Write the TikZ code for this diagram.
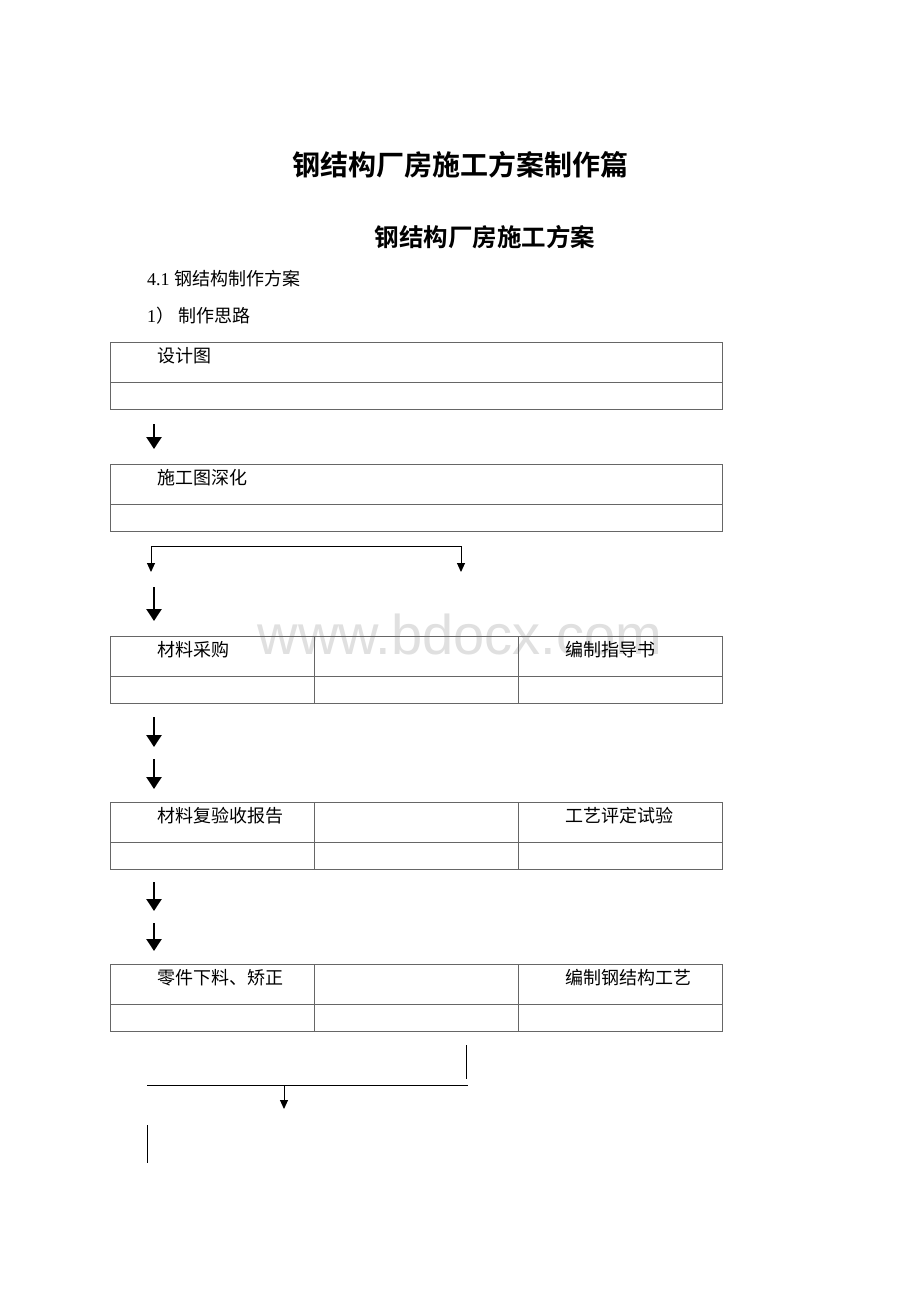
\documentclass[tikz,border=0pt]{standalone}
\usepackage{fontspec}
\setmainfont{Liberation Serif}
\newfontfamily\cjk{Noto Sans CJK SC}
\newfontfamily\cjkbold{Noto Sans CJK SC Bold}
\usepackage{tikz}
\usetikzlibrary{positioning,arrows.meta}

\tikzset{
  topcell/.style={draw=black!60, line width=0.8pt, minimum width=#1, minimum height=40pt, inner sep=0pt, outer sep=0pt, anchor=north west},
  botcell/.style={draw=black!60, line width=0.8pt, minimum width=#1, minimum height=27pt, inner sep=0pt, outer sep=0pt},
  lbl/.style={anchor=west, inner sep=0pt, font=\cjk\fontsize{18}{22}\selectfont},
  bigarr/.style={line width=2.4pt, -{Triangle[width=15pt,length=12pt]}},
  thinarr/.style={line width=1pt, -{Triangle[width=8pt,length=9pt]}},
  rule/.style={line width=1pt}
}

\begin{document}
\begin{tikzpicture}[x=1pt,y=-1pt]
\useasboundingbox[fill=white] (0,0) rectangle (920,1302);

% watermark
\node[text=black!12, font=\fontspec{Liberation Sans}\fontsize{56}{60}\selectfont] (wm) at (460,634) {www.bdocx.com};

% headings
\node[font=\cjkbold\fontsize{28}{34}\selectfont] (title) at (460,165) {钢结构厂房施工方案制作篇};
\node[font=\cjkbold\fontsize{24.5}{30}\selectfont] (subtitle) at (485,237) {钢结构厂房施工方案};
\node[anchor=west, inner sep=0pt, font=\fontsize{18}{22}\selectfont] (sec) at (147,279) {4.1 {\cjk 钢结构制作方案}};
\node[anchor=west, inner sep=0pt, font=\fontsize{18}{22}\selectfont] (idea) at (147,316) {1{\cjk ）\ 制作思路}};

% box 1: design drawing
\node[topcell=612pt] (t1) at (110,342) {};
\node[botcell=612pt, below=0pt of t1] (b1) {};
\node[lbl] (l1) at ([xshift=47pt,yshift=6pt]t1.west) {设计图};

\coordinate (a1s) at (154,424);
\coordinate (a1e) at (154,449);
\draw[bigarr] (a1s) -- (a1e);

% box 2: shop drawing
\node[topcell=612pt] (t2) at (110,464) {};
\node[botcell=612pt, below=0pt of t2] (b2) {};
\node[lbl] (l2) at ([xshift=47pt,yshift=6pt]t2.west) {施工图深化};

% split bracket
\coordinate (sp1) at (151,546);
\coordinate (sp2) at (461,546);
\coordinate (sp1e) at (151,572);
\coordinate (sp2e) at (461,572);
\draw[rule] (sp1) -- (sp2);
\draw[thinarr] (sp1) -- (sp1e);
\draw[thinarr] (sp2) -- (sp2e);

\coordinate (a2s) at (154,587);
\coordinate (a2e) at (154,621);
\draw[bigarr] (a2s) -- (a2e);

% box 3: purchase / instructions
\node[topcell=204pt] (t3a) at (110,636) {};
\node[topcell=204pt, right=0pt of t3a, anchor=west] (t3b) {};
\node[topcell=204pt, right=0pt of t3b, anchor=west] (t3c) {};
\node[botcell=204pt, below=0pt of t3a] (b3a) {};
\node[botcell=204pt, below=0pt of t3b] (b3b) {};
\node[botcell=204pt, below=0pt of t3c] (b3c) {};
\node[lbl] (l3a) at ([xshift=47pt,yshift=6pt]t3a.west) {材料采购};
\node[lbl] (l3c) at ([xshift=47pt,yshift=6pt]t3c.west) {编制指导书};

\coordinate (a3s) at (154,717);
\coordinate (a3e) at (154,747);
\coordinate (a4s) at (154,759);
\coordinate (a4e) at (154,789);
\draw[bigarr] (a3s) -- (a3e);
\draw[bigarr] (a4s) -- (a4e);

% box 4: re-inspection / procedure test
\node[topcell=204pt] (t4a) at (110,802) {};
\node[topcell=204pt, right=0pt of t4a, anchor=west] (t4b) {};
\node[topcell=204pt, right=0pt of t4b, anchor=west] (t4c) {};
\node[botcell=204pt, below=0pt of t4a] (b4a) {};
\node[botcell=204pt, below=0pt of t4b] (b4b) {};
\node[botcell=204pt, below=0pt of t4c] (b4c) {};
\node[lbl] (l4a) at ([xshift=47pt,yshift=6pt]t4a.west) {材料复验收报告};
\node[lbl] (l4c) at ([xshift=47pt,yshift=6pt]t4c.west) {工艺评定试验};

\coordinate (a5s) at (154,882);
\coordinate (a5e) at (154,911);
\coordinate (a6s) at (154,923);
\coordinate (a6e) at (154,951);
\draw[bigarr] (a5s) -- (a5e);
\draw[bigarr] (a6s) -- (a6e);

% box 5: cutting / process
\node[topcell=204pt] (t5a) at (110,964) {};
\node[topcell=204pt, right=0pt of t5a, anchor=west] (t5b) {};
\node[topcell=204pt, right=0pt of t5b, anchor=west] (t5c) {};
\node[botcell=204pt, below=0pt of t5a] (b5a) {};
\node[botcell=204pt, below=0pt of t5b] (b5b) {};
\node[botcell=204pt, below=0pt of t5c] (b5c) {};
\node[lbl] (l5a) at ([xshift=47pt,yshift=6pt]t5a.west) {零件下料、矫正};
\node[lbl] (l5c) at ([xshift=47pt,yshift=6pt]t5c.west) {编制钢结构工艺};

% merge lines
\coordinate (m1) at (466,1045);
\coordinate (m2) at (466,1079);
\coordinate (m3) at (147,1085);
\coordinate (m4) at (468,1085);
\coordinate (m5) at (284,1085);
\coordinate (m6) at (284,1109);
\coordinate (m7) at (147,1125);
\coordinate (m8) at (147,1163);
\draw[rule] (m1) -- (m2);
\draw[rule] (m3) -- (m4);
\draw[thinarr] (m5) -- (m6);
\draw[rule] (m7) -- (m8);
\end{tikzpicture}
\end{document}
